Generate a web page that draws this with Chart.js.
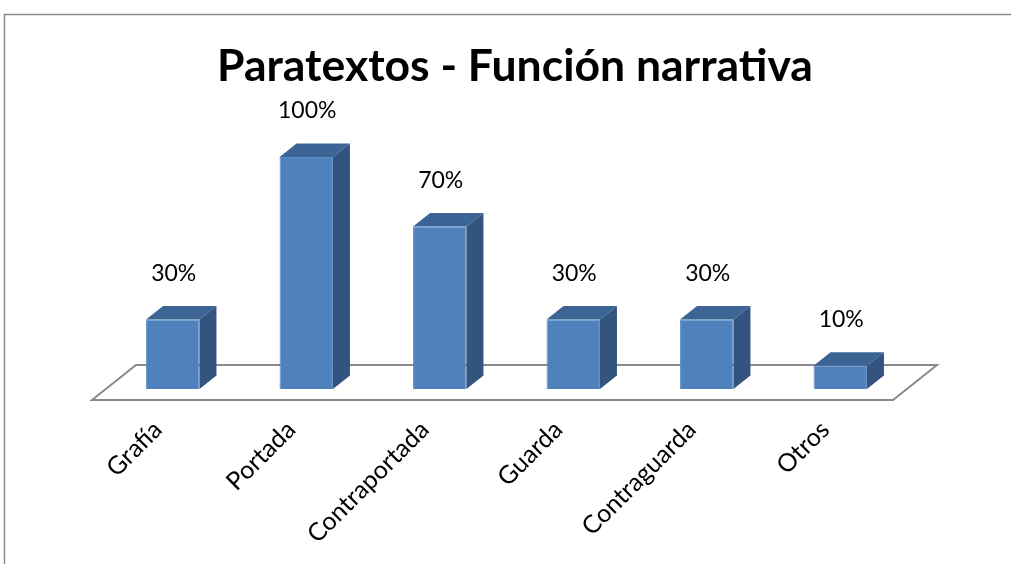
<!DOCTYPE html>
<html>
<head>
<meta charset="utf-8">
<script src="https://cdn.jsdelivr.net/npm/chart.js@4.4.1/dist/chart.umd.min.js"></script>
<style>
  body { margin: 0; background: #fff; }
  #wrap { width: 1011px; height: 564px; }
</style>
</head>
<body>
<div id="wrap"><canvas id="myChart" width="1011" height="564"></canvas></div>
<script>
// datos del grafico
const titulo = 'Paratextos - Función narrativa'
const categorias = ['Grafía', 'Portada', 'Contraportada', 'Guarda', 'Contraguarda', 'Otros']
const valores = [30, 100, 70, 30, 30, 10]
const etiquetas = ['30%', '100%', '70%', '30%', '30%', '10%']

const fuente = 'Lato, "Open Sans", sans-serif'
const prof = { dx: 17, dy: 13.5 } // profundidad de las barras 3D

// plugin que dibuja el piso, las caras 3D, los rotulos y el titulo
const efecto3d = {
  id: 'efecto3d',
  beforeDatasetsDraw(chart) {
    const ctx = chart.ctx
    const area = chart.chartArea
    const y0 = chart.scales.y.getPixelForValue(0)
    ctx.save()
    ctx.beginPath()
    ctx.moveTo(area.left - 14, y0 + 11)
    ctx.lineTo(area.right - 14, y0 + 11)
    ctx.lineTo(area.right + 30, y0 - 24)
    ctx.lineTo(area.left + 30, y0 - 24)
    ctx.closePath()
    ctx.fillStyle = '#ffffff'
    ctx.fill()
    ctx.lineWidth = 2
    ctx.strokeStyle = '#8a8a8a'
    ctx.stroke()
    ctx.restore()
  },
  afterDatasetsDraw(chart) {
    const ctx = chart.ctx
    const barras = chart.getDatasetMeta(0).data
    ctx.save()
    barras.forEach((b, i) => {
      const x1 = b.x - b.width / 2
      const x2 = b.x + b.width / 2
      // cara superior
      ctx.beginPath()
      ctx.moveTo(x1, b.y)
      ctx.lineTo(x2, b.y)
      ctx.lineTo(x2 + prof.dx, b.y - prof.dy)
      ctx.lineTo(x1 + prof.dx, b.y - prof.dy)
      ctx.closePath()
      ctx.fillStyle = '#3c6495'
      ctx.fill()
      // cara lateral
      ctx.beginPath()
      ctx.moveTo(x2, b.y)
      ctx.lineTo(x2 + prof.dx, b.y - prof.dy)
      ctx.lineTo(x2 + prof.dx, b.base - prof.dy)
      ctx.lineTo(x2, b.base)
      ctx.closePath()
      ctx.fillStyle = '#32547e'
      ctx.fill()
      // rotulo de datos
      ctx.fillStyle = '#000'
      ctx.font = '23px ' + fuente
      ctx.textAlign = 'center'
      ctx.textBaseline = 'middle'
      ctx.fillText(etiquetas[i], b.x + 1, b.y - 46)
    })
    ctx.restore()
  },
  afterDraw(chart) {
    const ctx = chart.ctx
    ctx.save()
    // borde del area del grafico
    ctx.strokeStyle = '#8c8c8c'
    ctx.lineWidth = 1.5
    ctx.beginPath()
    ctx.moveTo(4.5, 564)
    ctx.lineTo(4.5, 14.5)
    ctx.lineTo(1011, 14.5)
    ctx.stroke()
    // titulo
    ctx.fillStyle = '#000'
    ctx.font = 'bold 44.5px ' + fuente
    ctx.textAlign = 'center'
    ctx.textBaseline = 'middle'
    ctx.fillText(titulo, 515, 67)
    ctx.restore()
  }
}

const config = {
  type: 'bar',
  data: {
    labels: categorias,
    datasets: [{
      label: titulo,
      data: valores,
      backgroundColor: '#4f81bd',
      borderColor: '#5c8cc6',
      borderWidth: 1,
      categoryPercentage: 1,
      barPercentage: 0.4
    }]
  },
  options: {
    responsive: false,
    animation: false,
    layout: { padding: { left: 106, right: 104, top: 157, bottom: 0 } },
    plugins: {
      legend: { display: false },
      title: { display: false },
      tooltip: { enabled: false }
    },
    scales: {
      y: { display: false, min: 0, max: 100 },
      x: {
        grid: { display: false },
        border: { display: false },
        ticks: {
          color: '#000',
          font: { family: fuente, size: 25 },
          minRotation: 45,
          maxRotation: 45,
          padding: 18,
          labelOffset: -15,
          autoSkip: false
        },
        afterFit(scale) { scale.height = 175 }
      }
    }
  },
  plugins: [efecto3d]
}

new Chart(document.getElementById('myChart'), config)
</script>
</body>
</html>
